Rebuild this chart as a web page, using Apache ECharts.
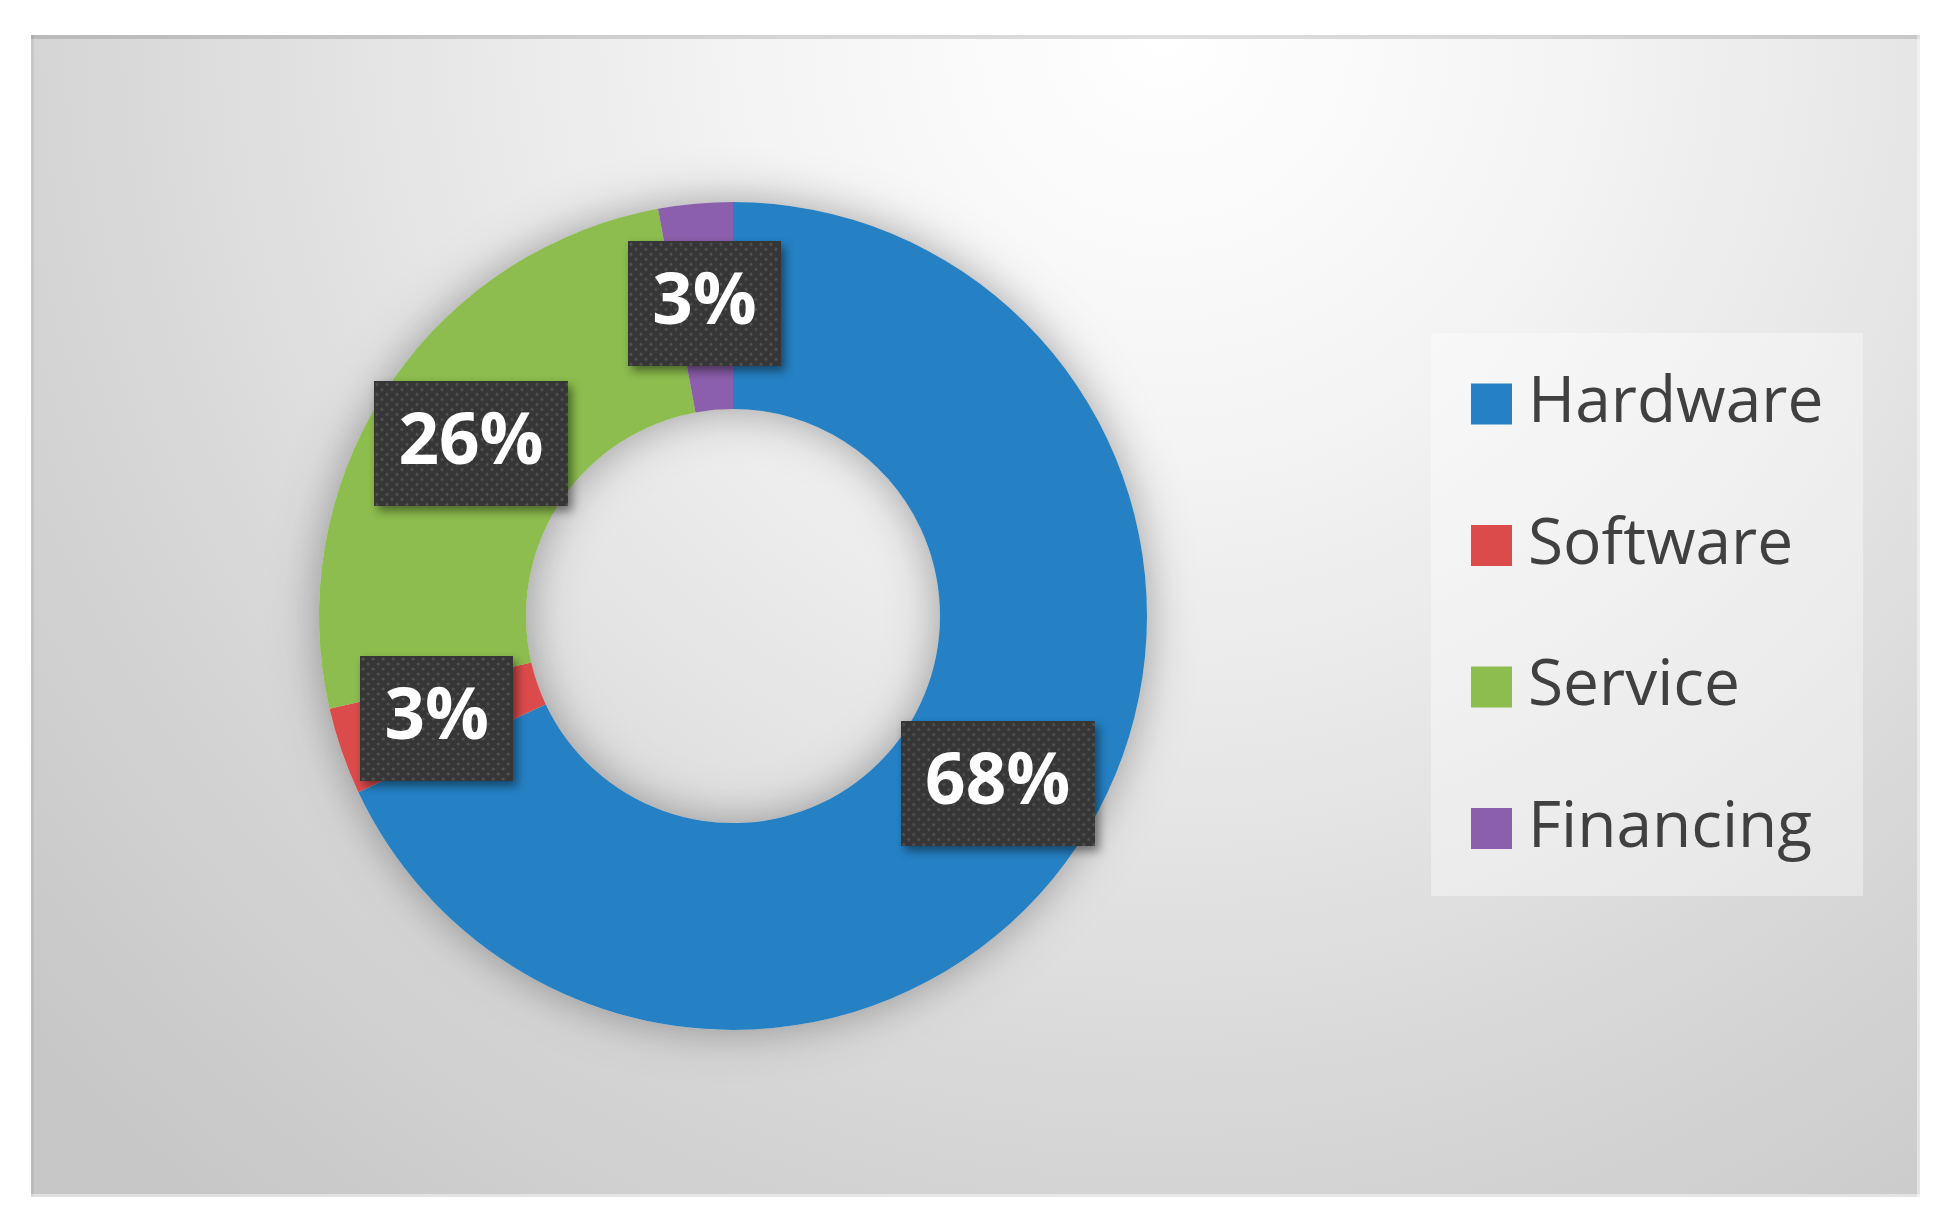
<!DOCTYPE html>
<html>
<head>
<meta charset="utf-8">
<script src="https://cdn.jsdelivr.net/npm/echarts@6/dist/echarts.min.js"></script>
<style>
html,body{margin:0;padding:0;background:#fff;}
#chart{width:1951px;height:1231px;}
</style>
</head>
<body>
<div id="chart"></div>
<script>
// ---- data ----
const categories = ['Hardware', 'Software', 'Service', 'Financing'];
const shares = [68.0, 3.4, 25.7, 2.9];
const sliceColors = ['#2581c4', '#dc4b4b', '#8cbd4e', '#8b5fab'];

// dotted dark texture for the data-label boxes
function makeTexture(w, h) {
  const c = document.createElement('canvas');
  c.width = w; c.height = h;
  const g = c.getContext('2d');
  g.fillStyle = '#363636';
  g.fillRect(0, 0, w, h);
  g.fillStyle = 'rgba(110,110,110,0.55)';
  const step = 10;
  for (let y = 3, row = 0; y < h; y += step / 2, row++) {
    for (let x = (row % 2 ? 3 + step / 2 : 3); x < w; x += step) {
      g.beginPath();
      g.arc(x, y, 1.6, 0, Math.PI * 2);
      g.fill();
    }
  }
  return c;
}
const tex3 = makeTexture(194, 125);
const tex2 = makeTexture(153, 125);

const chart = echarts.init(document.getElementById('chart'), null, {renderer: 'canvas'});

const FRAME = {x: 31, y: 35, w: 1889, h: 1162};
const LEG = {x: 1431, y: 333, w: 432, h: 563};

const option = {
  animation: false,
  backgroundColor: '#ffffff',
  graphic: [
    {
      type: 'rect', z: 0, silent: true,
      shape: {x: FRAME.x, y: FRAME.y, width: FRAME.w, height: FRAME.h},
      style: {
        fill: {
          type: 'radial', x: 0.6, y: 0.0, r: 1.3,
          colorStops: [
            {offset: 0, color: '#ffffff'},
            {offset: 0.25, color: '#f5f5f5'},
            {offset: 0.47, color: '#e8e8e8'},
            {offset: 0.73, color: '#d6d6d6'},
            {offset: 1, color: '#c7c7c7'}
          ]
        }
      }
    },
    {
      type: 'line', z: 0, silent: true,
      shape: {x1: FRAME.x, y1: FRAME.y + 2, x2: FRAME.x + FRAME.w, y2: FRAME.y + 2},
      style: {stroke: 'rgba(0,0,0,0.13)', lineWidth: 4}
    },
    {
      type: 'line', z: 0, silent: true,
      shape: {x1: FRAME.x + 1.5, y1: FRAME.y, x2: FRAME.x + 1.5, y2: FRAME.y + FRAME.h},
      style: {stroke: 'rgba(0,0,0,0.06)', lineWidth: 3}
    },
    {
      type: 'line', z: 0, silent: true,
      shape: {x1: FRAME.x, y1: FRAME.y + FRAME.h - 1.5, x2: FRAME.x + FRAME.w, y2: FRAME.y + FRAME.h - 1.5},
      style: {stroke: 'rgba(255,255,255,0.45)', lineWidth: 3}
    },
    {
      type: 'line', z: 0, silent: true,
      shape: {x1: FRAME.x + FRAME.w - 1.5, y1: FRAME.y, x2: FRAME.x + FRAME.w - 1.5, y2: FRAME.y + FRAME.h},
      style: {stroke: 'rgba(255,255,255,0.45)', lineWidth: 3}
    },
    {
      type: 'rect', z: 1, silent: true,
      shape: {x: LEG.x, y: LEG.y, width: LEG.w, height: LEG.h},
      style: {fill: 'rgba(255,255,255,0.38)'}
    }
  ],
  legend: {
    data: categories,
    orient: 'vertical',
    left: 1471,
    top: 372,
    padding: 0,
    itemGap: 77.5,
    itemWidth: 41,
    itemHeight: 41,
    icon: 'rect',
    selectedMode: false,
    textStyle: {
      fontFamily: 'Open Sans',
      fontSize: 64,
      lineHeight: 64,
      color: '#404040',
      padding: [0, 0, 0, 11]
    }
  },
  series: [
    {
      // soft shadow beneath the ring
      type: 'pie',
      silent: true,
      center: [733, 616],
      radius: [207, 414],
      startAngle: 90,
      label: {show: false},
      labelLine: {show: false},
      itemStyle: {
        color: '#dcdcdc',
        shadowBlur: 45,
        shadowColor: 'rgba(0,0,0,0.34)'
      },
      data: [{value: 1, name: '__ring__'}],
      z: 1
    },
    {
      type: 'pie',
      silent: true,
      center: [733, 616],
      radius: [207, 414],
      startAngle: 90,
      clockwise: true,
      avoidLabelOverlap: false,
      color: sliceColors,
      itemStyle: {borderWidth: 0},
      labelLine: {show: false},
      label: {
        show: true,
        position: 'inside',
        formatter: function (p) {
          const t = Math.round(p.percent) + '%';
          return '{' + (t.length > 2 ? 'w' : 'n') + '|' + t + '}';
        },
        rich: {
          w: {
            fontFamily: 'Open Sans', fontWeight: 'bold', fontSize: 71, lineHeight: 71,
            color: '#ffffff', width: 146, align: 'center'
          },
          n: {
            fontFamily: 'Open Sans', fontWeight: 'bold', fontSize: 71, lineHeight: 71,
            color: '#ffffff', width: 105, align: 'center'
          }
        },
        backgroundColor: {image: tex3},
        padding: [27, 24, 27, 24],
        shadowColor: 'rgba(0,0,0,0.45)',
        shadowBlur: 10,
        shadowOffsetX: 4,
        shadowOffsetY: 5
      },
      data: categories.map(function (c, i) {
        const pct = shares[i] / shares.reduce(function (a, b) { return a + b; }, 0) * 100;
        const item = {name: c, value: shares[i]};
        if (Math.round(pct) < 10) {
          item.label = {backgroundColor: {image: tex2}};
        }
        return item;
      }),
      z: 2
    }
  ]
};
chart.setOption(option);
</script>
</body>
</html>
